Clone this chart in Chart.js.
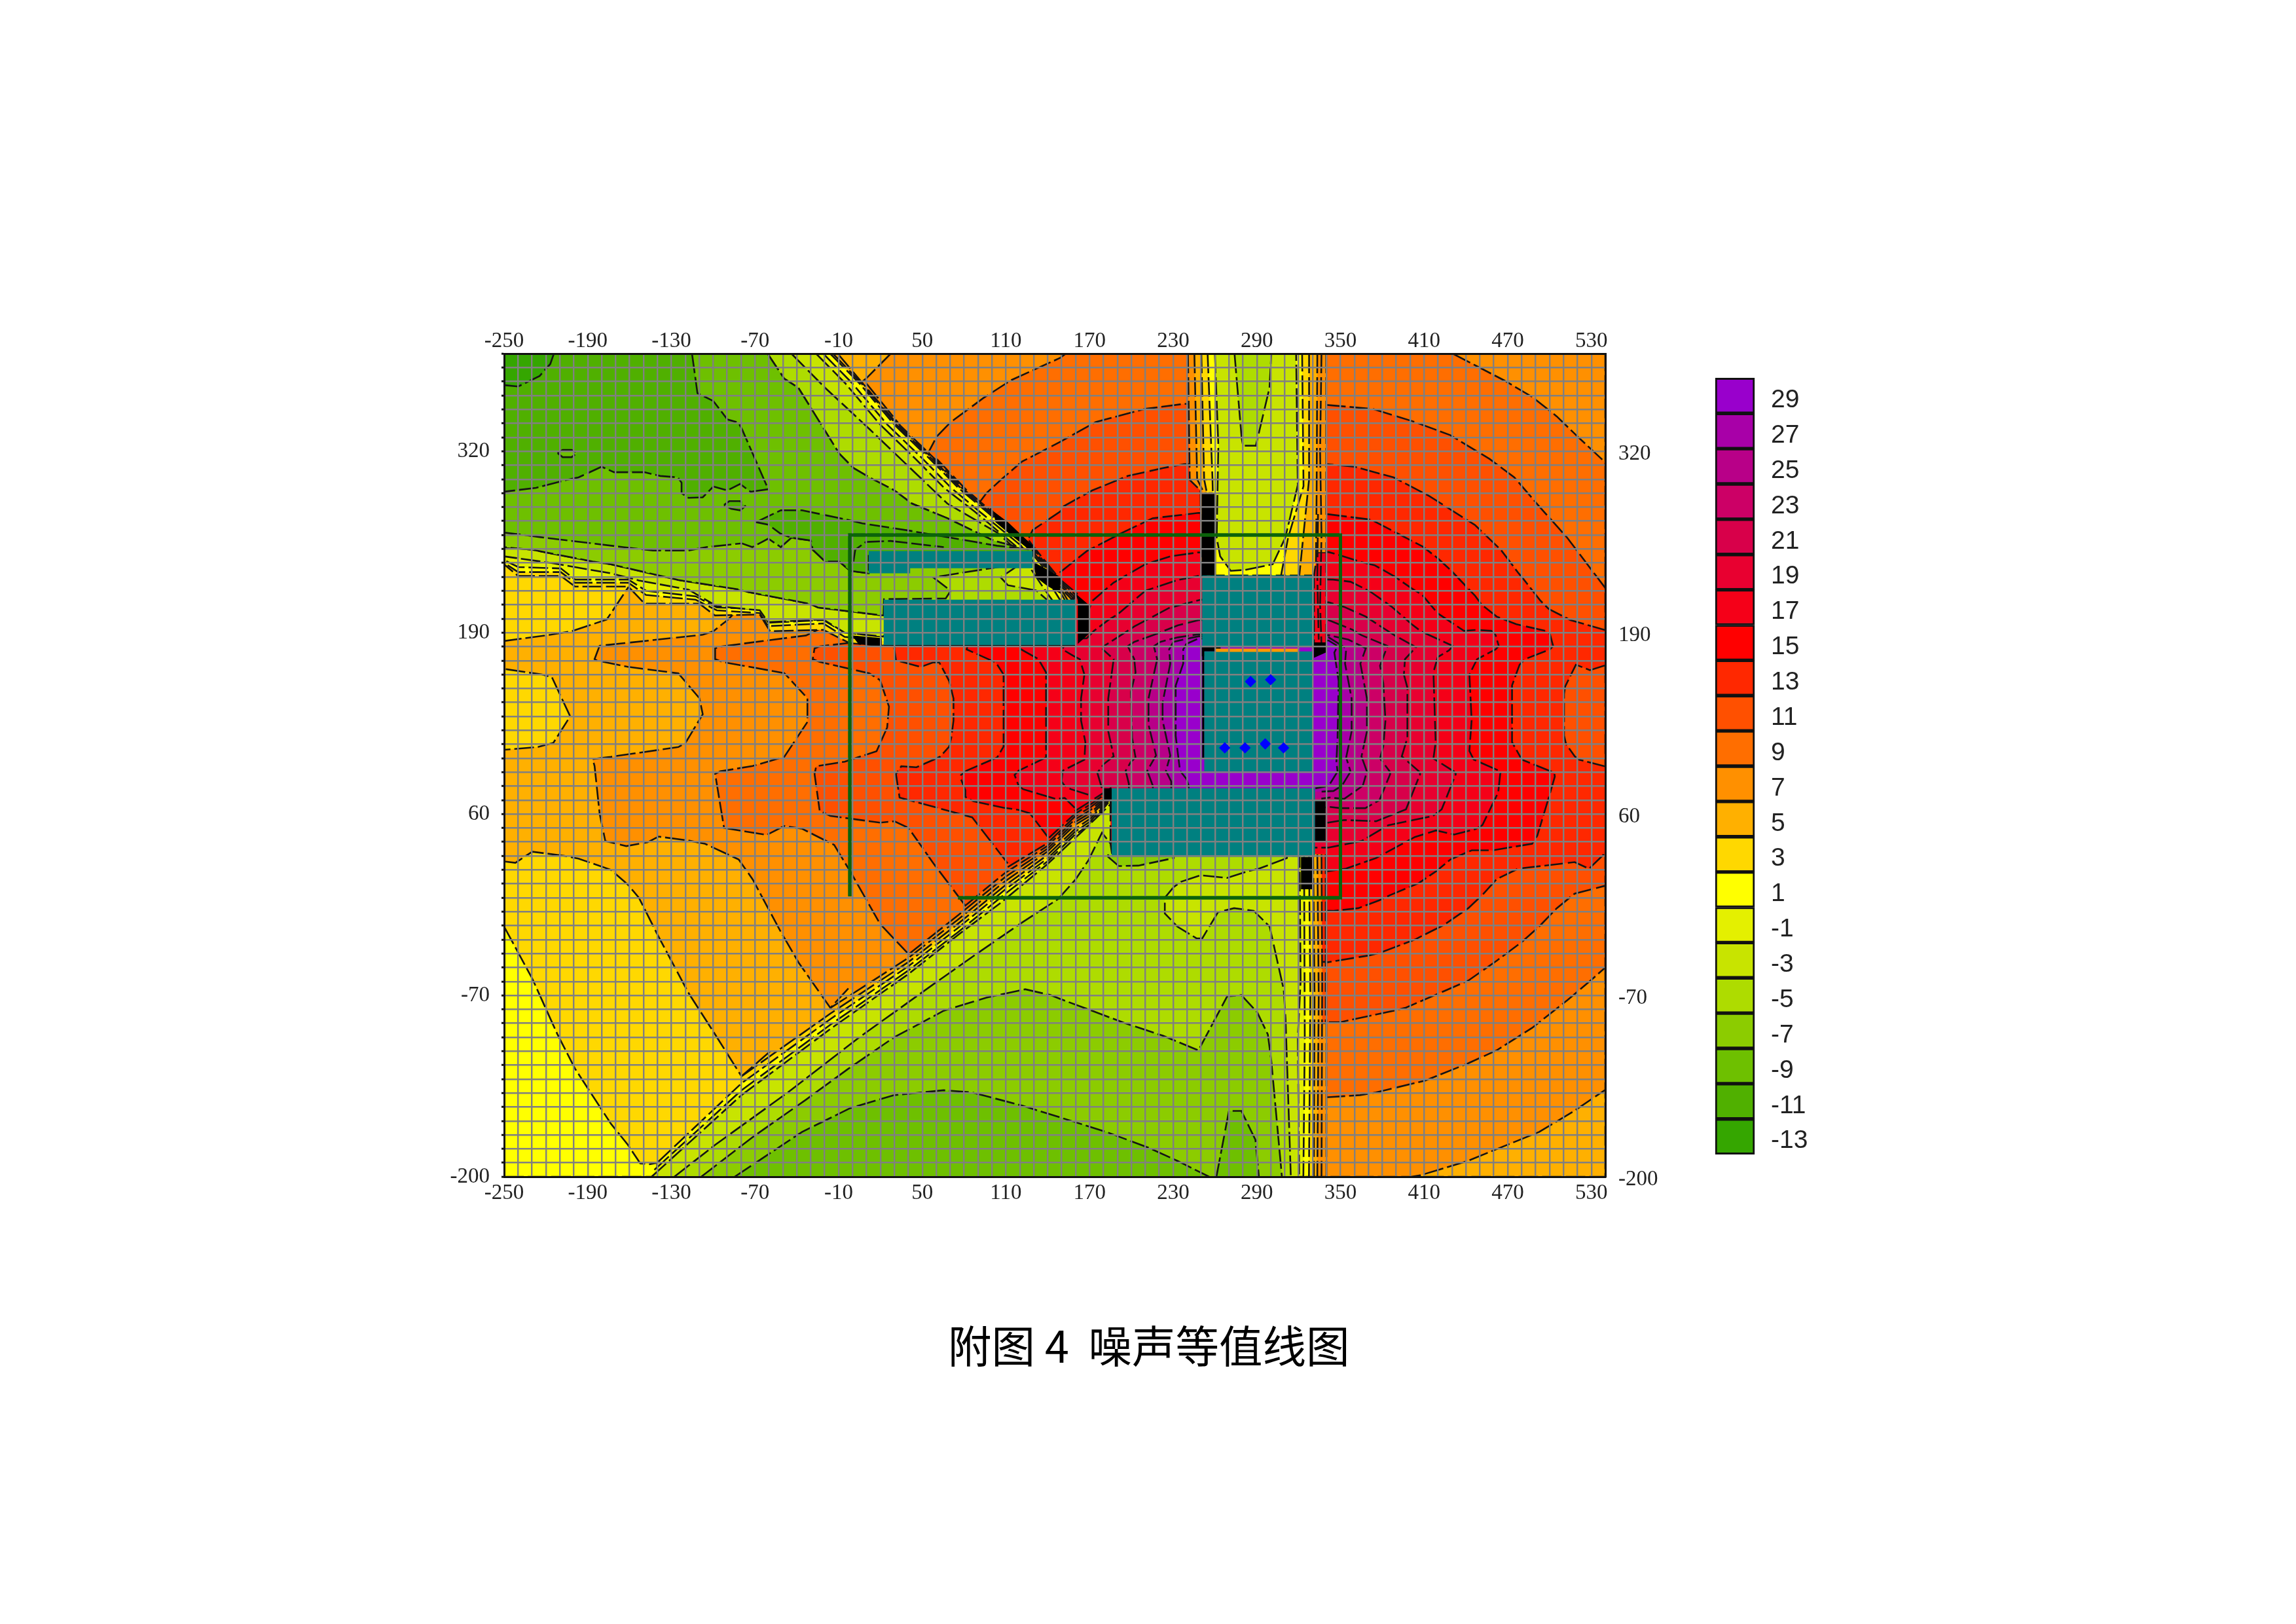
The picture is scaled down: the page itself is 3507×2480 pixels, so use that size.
<!DOCTYPE html>
<html>
<head>
<meta charset="utf-8">
<title>附图4 噪声等值线图</title>
<script src="https://cdn.jsdelivr.net/npm/chart.js@4/dist/chart.umd.min.js"></script>
<style>
html,body{margin:0;padding:0;background:#fff;width:3507px;height:2480px;overflow:hidden}
canvas{position:absolute}
#title{position:absolute;left:1448px;top:2004px;font:66.5px "Noto Sans CJK SC","Liberation Sans",sans-serif;color:#000;white-space:pre}
</style>
</head>
<body>
<canvas id="plot" width="3507" height="2480" style="left:0;top:0"></canvas>
<canvas id="scale" width="320" height="1266" style="left:2617px;top:537px"></canvas>
<div id="title">附图 4  噪声等值线图</div>
<script>
// tick labels and legend
var xTickLabels = [-250,-190,-130,-70,-10,50,110,170,230,290,350,410,470,530];
var yTickLabels = [-200,-70,60,190,320];
var legendLabels = ['29','27','25','23','21','19','17','15','13','11','9','7','5','3','1','-1','-3','-5','-7','-9','-11','-13'];
var legendColors = ['#9900CC','#A800A8','#B80088','#CC0066','#D8004A','#E80030','#F50018','#FF0000','#FF2800','#FF5000','#FF6E00','#FF9000','#FFB000','#FFD800','#FFFF00','#E4F000','#C8E400','#AEDC00','#8CCC00','#6EC000','#50B000','#35A600'];
var legendCells = [1,1,1,1,1,1,1,1,1,1,1,1,1,1,1,1,1,1,1,1,1,1];

// contour bands on the open side as [x, y]
var band1 = [[-250,-200],[540,-200],[540,390],[-250,390]];
var band3 = [[-250,-20.7],[-229.8,-58],[-211.7,-98],[-199.1,-122.6],[-173.4,-162],[-161.3,-177],[-152.3,-190.5],[-145.7,-191],[-140.2,-190],[-140.2,-200],[540,-200],[540,390],[-250,390]];
var band5 = [[-59,-110],[-79.7,-128],[-99.9,-96],[-117.9,-68],[-140.2,-26],[-153.3,0],[-161.3,9.5],[-173.4,20],[-196.6,28],[-206.7,30],[-229.8,33],[-241.9,25],[-250,26],[-250,106],[-225.8,108],[-214.7,111],[-202.6,130],[-215.7,158],[-222.8,160],[-250,164],[-250,184],[-216.7,188.5],[-201.6,191],[-176.4,199.4],[-163.3,219],[-149,240],[-18,390],[540,390],[540,-200],[-59,-200]];
var band7 = [[-3,-65],[-15.9,-79],[-38.4,-47],[-51.5,-24.5],[-71.6,13],[-81.7,27.4],[-105.9,38.7],[-118,41],[-139.2,43.8],[-147.2,39.7],[-162.3,37],[-177.4,40.6],[-181.5,60.4],[-185.1,94.4],[-186.5,99.4],[-173.4,101],[-125,108],[-120,110.8],[-107.5,131.5],[-109.9,143],[-125,160.8],[-161.3,165.5],[-183.5,170],[-185.1,171],[-181.5,180.6],[-163.3,182.5],[-107.5,188.5],[-99.9,191],[-89.8,199],[-68.6,220],[7,370],[9.6,372],[27.4,390],[540,390],[540,-137.7],[517.7,-152.8],[492.5,-167.9],[441.4,-188.6],[407.2,-199],[400.8,-200],[331.5,-200]];
var band9 = [[52,-55],[40.2,-40.5],[19.7,-18.8],[-0.6,17],[-13.2,37.8],[-36.4,49.5],[-49,51.4],[-61.6,45],[-92.2,50],[-98.6,88.7],[-94.9,90.6],[-71.7,94.4],[-49,101],[-32.4,126],[-32.4,143],[-49,161],[-93.5,169],[-98.6,171],[-98.6,178.7],[-94.9,180],[-33.4,188],[-8.2,200],[60.4,330.6],[70.5,341],[93.6,358],[113.8,371],[149,387],[153,390],[430.5,390],[467.1,371],[487.5,359],[505.2,345],[520.7,330],[540,312],[540,-50],[530.6,-58.4],[512.7,-73.5],[487.5,-93.3],[462,-109.4],[441.4,-118.8],[411,-131],[375.5,-139.6],[364,-141.5],[341.1,-143],[321,-143]];
var band11 = [[80.8,-5.6],[58,24.6],[40.1,50],[29.9,54.8],[19.7,53.8],[-15.9,58.6],[-23.6,62.3],[-27.3,88.7],[-26.1,94.2],[-5.7,97.5],[17.2,105],[24.8,122],[26.1,137],[19.7,156],[12,160.8],[-23.6,169],[-28.6,171],[-27.3,178.7],[-23.6,180.2],[4.4,183.4],[22,190],[96,290],[106.2,299.4],[121.5,312.6],[149,326.8],[174.5,341],[210,350.4],[238,354],[340,353.2],[373,350.4],[403.4,341],[428.9,331.5],[457,314.5],[474.7,301.3],[492.5,280.6],[512.7,258],[540,222],[540,8.6],[518,2.9],[505.2,-7.5],[492.5,-20.7],[479.8,-32],[462,-45.2],[441.7,-59.4],[397,-78.8],[388.2,-81],[350,-89.2],[341.1,-89.2],[321,-89]];
var band13 = [[111.3,24.6],[85.8,57.6],[75.7,60.4],[33.7,71.8],[31.1,88.7],[34.9,94.2],[45.8,93.5],[58.3,99],[63,101.3],[69.3,108.3],[70.8,114.6],[72.4,127],[72.4,142.8],[69.3,155.3],[62.2,168.6],[57.5,168.6],[48.9,165.4],[31.1,170.2],[29.9,178.7],[32,185],[125,255],[129.2,263.6],[149,276.8],[151.5,280.6],[171.8,291.9],[197.4,302.3],[222.8,308],[238,310.8],[340,310.8],[360,308.9],[388.1,301.3],[413.6,288],[446.4,267.2],[465.2,249.2],[477.6,232.8],[481.6,228],[493.2,213.2],[499.4,207],[515,199],[539.2,192],[546,191],[546,166],[539.2,166.3],[529,163.1],[518.9,167],[511.2,151.4],[510.4,146],[510.4,116.2],[511.9,110],[518.1,101.3],[521.2,99],[539.2,94.3],[546,93],[546,37.8],[528.3,20.8],[518,25.5],[477.5,20.8],[462,13.3],[451.8,2],[441.7,-7.5],[423.8,-19.8],[416.2,-23.5],[403.4,-30],[378,-39.6],[370.4,-41.4],[341.1,-46.2],[321,-46]];
var band15 = [[139.7,44],[130.1,56.7],[127,60.6],[119,63],[108.3,64.5],[86.5,69.2],[80.9,72.3],[80.9,77],[77.8,84.8],[77.8,88],[81.8,91.1],[103.7,100.5],[108.3,108.3],[108.3,160],[102.8,168.6],[97.4,171],[81.8,178],[87.8,200],[149,226],[149,233.4],[168.1,248.5],[193.6,261.7],[215.2,272],[248.1,275.8],[340,275],[372,271],[409.2,251.6],[420.2,243],[429.5,234.4],[446.6,216.4],[451.3,210],[462.1,201.5],[476.2,196],[497.2,191.3],[500.3,189],[502.6,180.4],[500.3,178],[482.4,171],[478.5,167],[473.1,152.2],[473.1,111.5],[480.1,99],[503.4,89.6],[503.8,86.8],[498.9,69.9],[491.2,44.4],[487.5,38.7],[459.4,34],[444.2,34],[428.9,27.4],[418.7,19],[406,10.4],[385.7,1.9],[378,-1.8],[362.8,-7.5],[345,-9.4],[321,-9],[184,25],[139.7,30]];
var band17 = [[159.3,64.5],[155.3,68.4],[152.2,71.5],[146,70.8],[122.3,77.8],[119.2,80],[116.2,88],[119.2,91.1],[138.8,100.5],[138.8,161.5],[133.3,171],[120.9,178],[133,200],[161,200],[169,205],[171.8,212.6],[187.2,225.8],[210,239],[227.9,244.7],[248.1,247.5],[341.6,247.7],[347.9,246],[365,240.6],[374.5,238.3],[388.6,230.4],[401,221.8],[408.7,217],[419.8,203.8],[438.6,191.3],[448,192],[458.2,191.3],[461.3,188.2],[463.6,180.4],[461.3,178],[448,171],[442.5,160],[444.1,127.2],[442.5,105.2],[445.6,99],[465.2,90.4],[464.6,88.7],[463.2,75.5],[451.8,52],[446.7,49.1],[431.5,45.3],[418.6,48.2],[403.4,43.5],[375.5,28.4],[353.9,20.8],[341.1,19],[321,19],[184,40]];
var band19 = [[169,73.9],[156.6,77.8],[152.2,80.2],[149.9,83.3],[150.6,91],[166.3,98.9],[167,111.5],[163.9,127],[163.9,142.8],[166.3,160],[163,171],[158.4,173.3],[150.6,178],[153.3,185],[168,186],[173.2,191.3],[183.4,199],[190,203],[210,220],[233,227.7],[248.1,230.6],[344.7,228],[357.2,226.5],[371.3,219.5],[386.9,208.5],[401.1,196],[407.3,191.3],[412,189],[430.8,180.4],[427.7,177.2],[419.8,172.5],[416.7,161.6],[418.3,111.5],[416.7,99.8],[431.6,90.4],[432.8,88.7],[422.6,63.3],[416.2,58.5],[384.3,52],[365.1,40.6],[341.1,35.9],[321,36],[184,60]];
var band21 = [[178.8,78.6],[175.6,89.5],[180.2,95.8],[187.3,101.3],[183.4,119.3],[183.4,142.8],[187.3,171],[179.5,178],[180.2,180.3],[202.1,194.4],[227,207.7],[249.8,213.6],[341.6,211.7],[352.5,208.5],[368.2,201.5],[379,194.4],[388.6,188.2],[404.2,179.6],[396.3,171],[395.5,160],[398,150.6],[398,114.6],[394,101.3],[406.5,90.4],[407.2,88.7],[397,63.3],[375.5,54.8],[352.6,55.7],[341.1,53.8],[336.3,50]];
var band23 = [[198.2,78.4],[198.2,81.7],[195.9,91],[199.7,97.4],[203,100.5],[200.5,114.6],[199.7,147.5],[203,161.5],[202.1,171],[197.4,180.3],[202.1,183.4],[217.7,189],[233.3,195.2],[248.2,199],[341.6,199],[358.8,192],[365,188.2],[383.8,180.4],[380.7,172.5],[378.4,166.3],[380.7,153.8],[382.3,127.2],[380.7,108.4],[378.4,99.8],[385.4,90.4],[385.7,88.7],[378,69.9],[367.8,64.2],[350,64.2],[341.1,65.2],[336.3,64]];
var band25 = [[215.4,78.4],[215.4,80.2],[211.4,91],[217.7,102],[212.3,124],[212.3,142.8],[218.5,171],[216.1,180.3],[220.8,183.4],[233.3,186.6],[248.2,188.9],[341.6,188.2],[355.7,185],[368.2,178.8],[364.3,167.8],[369,142.8],[369,119.3],[365.1,101.3],[369,90.4],[366,80.2],[352.6,70.8],[342.3,71.8],[336.3,71]];
var band27 = [[228.6,78.4],[228.6,83.3],[224.8,91],[227.9,102],[222.4,127],[222.4,139.6],[227.9,167.8],[227.1,178],[230.2,183.4],[248.2,187.4],[341.6,186.6],[354.1,178.8],[353.3,167.8],[358,142.8],[358,119.3],[354.1,100.5],[357.2,90.4],[351,80.2],[345,76.5],[336,76]];
var band29 = [[241.1,78.4],[241.1,80.2],[239.6,85],[234.9,91],[231.8,116],[231.8,152],[237.2,167.8],[237.2,178],[239.5,181.9],[248.2,185.8],[341.6,184.3],[347.9,180.4],[345.6,175.7],[348.7,155.3],[347.9,114.6],[347.1,97.4],[347.9,90.4],[341.6,80.2],[332,78.4]];

// upper shadow wedge, from the lit edge inwards
var upEdge13 = [[126.5,256],[129.2,252.3],[149,228],[161,218],[153,205],[113,230]];
var upEdge11 = [[98.6,279],[101.1,276.1],[128.5,251.6],[148.3,227.3],[160,217],[153,205],[92.6,250]];
var upEdge9 = [[60.4,314.5],[80.8,293.1],[100.4,276.1],[127.8,251.6],[147.6,226.6],[159,216],[153,205],[52.3,290]];
var upEdge7 = [[9.6,369],[34.3,338.3],[59.7,313.8],[80.1,292.4],[99.6,275.4],[127.1,250.9],[146.9,225.9],[158,215],[153,205],[1.9,340]];
var upEdge5 = [[-10.7,390],[8.2,367.6],[33.6,337.6],[59,313.1],[79.4,291.7],[98.9,274.7],[126.4,250.2],[146.2,225.2],[157,214],[153,205],[-28.3,370]];
var shade3 = [[-14.1,390],[6.1,369],[31.5,339],[56.9,314.5],[77.3,293.8],[97.6,276.8],[125.7,252.3],[145.5,228],[155,212],[155,205],[27,185],[22.2,180.6],[-1.9,182.4],[-21,192],[-59.2,191],[-66.6,203],[-98.7,202.3],[-110,210.8],[-149.2,210.8],[-160.9,223],[-199.1,223],[-209.3,230.6],[-239.9,230.6],[-250,239],[-250,390]];
var shade1 = [[-16.1,390],[4.6,369],[30,339],[55.4,314.5],[75.8,293.8],[96.1,276.8],[124.2,252.3],[144,228],[153,212],[153,205],[27,188],[22,184],[-5.7,187],[-21,196.6],[-60.6,194.7],[-66.6,204],[-97.4,206],[-112.6,213.6],[-148.2,217],[-160.9,225.8],[-199.1,225.8],[-209.3,233.4],[-239.9,233.4],[-250,240],[-250,390]];
var shadeM1 = [[-21.1,390],[-0.5,369],[25,339],[50.4,314.5],[70.7,293.8],[91.1,276.8],[120.9,252.3],[141,226],[151,210],[151,205],[27,191],[22,187],[-5.7,190],[-21,199],[-60.6,197],[-66.6,207],[-97.4,208],[-112.6,216],[-148.2,220],[-160.9,228],[-199.1,228],[-209.3,236],[-239.9,237],[-250,242],[-250,390]];
var shadeM3 = [[-26.2,390],[-5.5,369],[19.9,339],[45.2,314.5],[65.6,293.8],[87.6,276.8],[116.8,252.3],[137,222],[147,208],[147,205],[27,193],[22,187.2],[-5.7,190],[-21,199.4],[-60.6,197.5],[-66.6,206],[-97.4,209],[-117.7,220.8],[-153.3,227.4],[-173.4,232.5],[-216.7,240],[-250,244.7],[-250,390]];
var shadeM5 = [[-43.9,390],[-19.7,365.5],[12,336],[68,282.5],[103.7,261.7],[116.4,250.4],[129,245],[106.2,229.6],[111.4,224],[131.7,220.2],[139.4,213.6],[139,205],[22,205],[22,202.3],[-24.8,208],[-31.3,210.8],[-74.5,219],[-82,221],[-125,227.7],[-132.9,229.6],[-173.4,239],[-186.5,241],[-229.8,249.4],[-250,251.3],[-250,390]];
var shadeM7 = [[-61,390],[-49,372],[-38.9,365.5],[-9.6,318.3],[0.6,308],[12,301.3],[29.9,292],[42.6,282.5],[68,272],[101.1,256],[129.2,248.5],[123,240],[57.9,229.6],[70.4,220],[66.8,214.5],[22.5,214],[22.2,202.3],[-24.8,208],[-31.3,210.8],[-74.5,219],[-82,221],[-125,227.7],[-132.9,229.6],[-173.4,239],[-186.5,241],[-229.8,249.4],[-250,251.3],[-250,390]];
var shadeM9 = [[-61,390],[-49,372],[-38.9,365.5],[-9.6,318.3],[0.6,308],[12,301.3],[29.9,292],[42.6,282.5],[68,272],[101.1,256],[129.2,248.5],[123,240],[14,240],[11.6,232.5],[-1.9,234.3],[-9.6,241],[-19.7,241],[-28.6,249.4],[-29.9,256],[-43.9,258],[-51.5,251.3],[-60.5,257.4],[-71.9,251.3],[-79.5,254],[-104.9,251.3],[-117.7,248.9],[-143.2,248.9],[-164.7,251.3],[-224.5,258.5],[-237.3,260.2],[-250,261.7],[-250,390]];
var shadeM11 = [[-115.2,390],[-111.3,361.7],[-99.9,356],[-89.8,342.8],[-82,340.6],[-79.5,336.2],[-60.5,292.8],[-73.2,291],[-80.7,296.6],[-89.8,291.9],[-99.9,294.7],[-107.5,287],[-117.7,286.6],[-122.7,290],[-122.7,297.5],[-125.4,301.3],[-138,302.3],[-149.5,305],[-171.1,305],[-180.1,308.9],[-196.6,301.3],[-205.5,299.4],[-227.1,293.8],[-250,291],[-250,390]];
var patchM11 = [[-69.3,269.2],[-51.5,277.7],[-36.3,277.7],[-3.1,270.8],[7,268.3],[40.1,263.2],[70.6,258],[103.7,252.3],[129.2,249.4],[129,245],[11.6,245],[11.6,232.5],[-1.9,234.3],[-9.6,241],[-19.7,241],[-28.6,249.4],[-29.9,256],[-43.9,258],[-51.5,260.8],[-60.5,267.4],[-69.3,269.2]];
var cornerM13 = [[-214.3,390],[-216.9,382.5],[-224.5,374],[-239.9,366.4],[-250,367.4],[-250,390]];
var blobA = [[-211.7,318.7],[-208,321],[-201.6,321],[-197.8,318.7],[-201.6,315.8],[-208,315.8],[-211.7,318.7]];
var blobB = [[-92.2,281.5],[-88.4,284.3],[-80.7,284.3],[-77,280.6],[-80.7,277.7],[-87.1,278.7],[-92.2,281.5]];
var lineAboveRoof = [[0.6,241],[1.9,249.4],[9.5,255],[27.4,255.7],[65.4,251.3]];

// top notch above the right building
var notchOuterLeft = [[240.6,390],[241.9,299.4],[249.6,291.9],[250.2,231],[260,231],[260,390]];
var notchLeft5 = [[245.2,390],[247.2,300],[252.2,290],[260,290],[260,390]];
var notchLeft3 = [[250.2,390],[252.2,300],[254.2,290],[260,290],[260,390]];
var notchRightTop = [[339.8,390],[339.8,247],[327.5,247],[327.5,390]];
var notchRightLow = [[339.8,247],[339.8,179.6],[331,179.6],[331,247]];
var notchRight5 = [[333.4,390],[332.9,290],[332.4,240],[331,231],[317.5,231],[317.5,390]];
var notchGold = [[327.5,390],[327.5,300],[320.5,231],[301.4,231],[301.4,390]];
var notchYellow = [[254.7,390],[258.2,300],[259.9,231],[307.4,231],[312.4,258],[323.5,295],[322.5,390]];
var notchM3 = [[259.9,390],[262.4,324],[261.2,258],[263.7,244.7],[271.3,234.3],[281.6,235],[301.4,239],[310.4,258],[319.4,295.7],[318.2,390]];
var notchM5 = [[274,390],[279.1,329.6],[280.1,324],[289.3,324],[299.1,365.5],[300.4,390]];
var notchLineA = [[336.4,390],[335.4,320],[336.4,260],[335.4,210],[336.4,181]];
var notchLineB = [[333.9,275],[333.4,230],[334.4,185]];

// strip right of the lower wedge
var stripBase = [[339.9,31],[339.9,-200],[316.4,-200],[316.4,31]];
var strip11 = [[339.4,31],[339.4,-90],[319.4,-90],[319.4,31]];
var strip13 = [[339.4,31],[339.4,-46],[319.4,-46],[319.4,31]];
var strip7 = [[336.4,31],[336.9,-60],[336.4,-200],[319.4,-200],[319.4,31]];
var strip5 = [[333.4,31],[334.4,-70],[333.4,-200],[319.4,-200],[319.4,31]];
var strip3 = [[330.4,31],[331.4,-70],[330.9,-200],[319.4,-200],[319.4,31]];
var strip1 = [[327.4,31],[328.4,-70],[327.4,-200],[319.4,-200],[319.4,31]];
var stripM1 = [[323.9,31],[324.4,-100],[323.4,-200],[316.4,-200],[316.4,31]];

// lower shadow wedge
var lowEdge15 = [[159.3,62],[170.9,69.3],[185,78.4],[185,60],[143,20]];
var lowEdge13 = [[141,43],[159.3,60],[170.9,67],[185,77],[185,60],[123,5]];
var lowEdge11 = [[111.3,22],[139.7,39],[159.3,58],[170.9,65],[185,76],[185,60],[103,-12]];
var lowEdge9 = [[80.4,-6],[109.7,18],[139.7,37],[159.3,56],[170.9,63],[185,75],[185,60],[72.4,-35]];
var lowEdge7 = [[40.2,-40.5],[75.2,-13],[109.7,15],[139.7,35],[159.3,54],[170.9,61],[185,74],[185,60],[103,-12],[40.2,-60]];
var lowEdge5 = [[-15.9,-79],[40.2,-43],[75.2,-16],[109.7,12],[139.7,33],[159.3,52],[170.9,59],[185,73],[185,60],[103,-12],[40.2,-60],[-15.9,-100]];
var lowEdge3 = [[-79.7,-128],[-15.9,-83],[40.2,-46],[75.2,-19],[109.7,9],[139.7,30.5],[159.3,49],[170.9,57],[185,72],[185,60],[103,-12],[40.2,-60],[-15.9,-100],[-79.7,-148]];
var lowEdge1 = [[-140.2,-190],[-79.7,-133],[-15.9,-87],[40.2,-49],[75.2,-22],[109.7,6],[139.7,28],[159.3,47],[170.9,55],[185,71],[185,60],[103,-12],[40.2,-60],[-15.9,-100],[-79.7,-148],[-140.2,-200]];
var lowEdgeM1 = [[-142.2,-195],[-79.7,-138],[-15.9,-91],[40.2,-52],[75.2,-25],[109.7,3],[139.7,26],[159.3,45],[170.9,53],[185,70],[185,60],[103,-12],[40.2,-60],[-15.9,-100],[-79.7,-148],[-142.2,-200]];
var lowM3 = [[-144.2,-200],[-79.7,-141.5],[-15.9,-94],[40.2,-54.6],[75.2,-27],[106.2,-3.7],[139.7,24],[167.9,50.5],[185,67],[185,30],[320.7,30],[321.4,-60],[319.4,-100],[320.4,-200]];
var lowM5 = [[-127.9,-200],[-98.4,-177],[-46.5,-139.6],[4.9,-100],[60.4,-60.3],[91.2,-38.7],[120.8,-18.3],[147.4,-1],[159.9,13],[169.3,27],[178.9,46.6],[185,38.8],[186,32],[311.6,32],[311.6,28.4],[291.5,20.8],[283.8,19],[268.6,14.2],[249.5,16.1],[235.5,11.4],[230.3,7.6],[224,0],[224,-11.3],[233,-20.7],[246.9,-29.2],[250.8,-29.2],[262.2,-10.3],[273.7,-7.5],[287.8,-9.4],[299.2,-20.7],[309.3,-66],[310.6,-86.7],[314.4,-200]];
var lowBlobM7 = [[183.3,31],[183.3,29.3],[190.9,22.7],[205,23],[230.4,28.4],[230.4,31]];
var lowM7 = [[-108.6,-200],[-71.7,-171.6],[-33.8,-145],[-3.1,-122.6],[29.9,-100],[65.4,-81],[96,-71.6],[123.8,-65.6],[142,-69.8],[149,-72.6],[171.8,-81],[194.5,-89.6],[222.8,-99],[248.1,-109.4],[268.7,-70.7],[278.9,-69.8],[290.2,-82],[297.9,-98],[300.4,-117],[308,-200]];
var lowM9 = [[-84.6,-200],[-36.3,-167.9],[-1.9,-150.9],[29.9,-141.5],[65.4,-138],[85.9,-139.6],[121.5,-149],[149,-157.5],[182.1,-167.9],[212.4,-179.2],[233,-188.6],[255.8,-200]];
var lowPeakM9 = [[261,-200],[270,-152.8],[278.9,-152.8],[289,-173.5],[291.5,-200]];

// black patches where the contours run together
var denseA = [[101.3,276.8],[111.4,269.2],[129.2,252.3],[126.7,249.4],[113.8,259.8],[102.4,269.2]];
var denseB = [[160,218],[169.4,210],[169.4,189],[161.6,182],[161.6,213]];
var denseC = [[129.3,241],[149,230],[149,218],[139,224],[131.8,229.6]];
var denseD = [[-0.5,188],[21,186],[21,180.6],[4.5,181.5]];
var denseE = [[250.4,290],[260.7,290],[260.7,231],[250.4,231]];
var denseF = [[331.7,70],[339.3,70],[339.3,40],[331.7,40]];
var denseG = [[321.7,29],[329.7,29],[329.7,6],[321.7,6]];
var denseH = [[180.2,78.4],[186,78.4],[186,71],[180.2,71]];
var denseI = [[250.5,180],[264,180],[264,176.5],[252.4,176.5],[252.4,173],[250.5,173]];
var denseJ = [[331,183],[340,183],[340,176],[331,172]];
var denseK = [[250.8,178],[252.4,178],[252.4,100],[250.8,100]];

// buildings
var roofA = [[11.6,248.5],[129.2,248.5],[129.2,236.2],[41.3,236.2],[41.3,232.5],[11.6,232.5]];
var roofB = [[22.3,213.6],[160,213.6],[160,180.6],[22.3,180.6]];
var roofC = [[250.8,231],[331,231],[331,179.6],[250.8,179.6]];
var roofD = [[252.3,176.5],[329.8,176.5],[329.8,90.6],[252.3,90.6]];
var roofE = [[185.9,78.4],[331.7,78.4],[331.7,29.3],[185.9,29.3]];
var orangeBar = [[260.3,178.6],[319.5,178.6],[319.5,176.2],[260.3,176.2]];
var roofBEdge = [[22.3,180.4],[160,180.4]];

// site boundary and sources
var siteLine = [[-2,1],[-2,260],[350,260],[350,0],[75.6,0]];
var sources = [[285.5,155],[299.9,156.2],[267,107.4],[281.5,107.4],[296,110.3],[309.2,107.4]];

var c = {};
legendLabels.forEach(function(l, i){ c[l] = legendColors[i]; });

var INK = '#141414';
// paint order: first row is painted first
var layers = [
    [band1, c['1']], [band3, c['3']], [band5, c['5']], [band7, c['7']], [band9, c['9']],
    [band11, c['11']], [band13, c['13']], [band15, c['15']], [band17, c['17']], [band19, c['19']],
    [band21, c['21']], [band23, c['23']], [band25, c['25']], [band27, c['27']], [band29, c['29']],
    [upEdge13, c['13']], [upEdge11, c['11']], [upEdge9, c['9']], [upEdge7, c['7']], [upEdge5, c['5']],
    [shade3, c['3']], [shade1, c['1']], [shadeM1, c['-1']], [shadeM3, c['-3']], [shadeM5, c['-5']],
    [shadeM7, c['-7']], [shadeM9, c['-9']], [shadeM11, c['-11']], [patchM11, c['-11']], [cornerM13, c['-13']],
    [blobA, c['-9']], [blobB, c['-11']], [lineAboveRoof, null],
    [notchOuterLeft, c['7']], [notchLeft5, c['5']], [notchLeft3, c['3']],
    [notchRightTop, c['7']], [notchRightLow, c['17']], [notchRight5, c['5']], [notchGold, c['3']],
    [notchYellow, c['1']], [notchM3, c['-3']], [notchM5, c['-5']], [notchLineA, null], [notchLineB, null],
    [stripBase, c['7']], [strip11, c['11']], [strip13, c['13']], [strip7, c['7']], [strip5, c['5']],
    [strip3, c['3']], [strip1, c['1']], [stripM1, c['-1']],
    [lowEdge15, c['15']], [lowEdge13, c['13']], [lowEdge11, c['11']], [lowEdge9, c['9']], [lowEdge7, c['7']],
    [lowEdge5, c['5']], [lowEdge3, c['3']], [lowEdge1, c['1']], [lowEdgeM1, c['-1']], [lowM3, c['-3']],
    [lowM5, c['-5']], [lowBlobM7, c['-7']], [lowM7, c['-7']], [lowM9, c['-9']], [lowPeakM9, c['-9']]
];
var patches = [denseA, denseB, denseC, denseD, denseE, denseF, denseG, denseH, denseI, denseJ, denseK];
var roofs = [roofA, roofB, roofC, roofD, roofE];

function pts(list){
    return list.map(function(p){ return {x: p[0], y: p[1]}; });
}

var datasets = [];
layers.forEach(function(l){
    datasets.push({
        data: pts(l[0]), showLine: true, pointRadius: 0, tension: 0,
        fill: l[1] ? 'shape' : false, backgroundColor: l[1] || 'transparent',
        borderColor: INK, borderWidth: 2.6, borderDash: [30, 6]
    });
});
patches.forEach(function(p){
    datasets.push({data: pts(p), showLine: true, pointRadius: 0, fill: 'shape', backgroundColor: '#000', borderWidth: 0});
});
roofs.forEach(function(p){
    datasets.push({data: pts(p), showLine: true, pointRadius: 0, fill: 'shape', backgroundColor: '#008080', borderWidth: 0});
});
datasets.push({data: pts(orangeBar), showLine: true, pointRadius: 0, fill: 'shape', backgroundColor: '#FF9900', borderWidth: 0});
datasets.push({data: pts(roofBEdge), showLine: true, pointRadius: 0, borderColor: '#000', borderWidth: 3});

// these two go over the mesh
var firstOverlay = datasets.length;
datasets.push({data: pts(siteLine), showLine: true, pointRadius: 0, fill: false, borderColor: '#0B630B', borderWidth: 5});
datasets.push({data: pts(sources), showLine: false, pointStyle: 'rectRot', pointRadius: 8.5, backgroundColor: '#0000FF', borderWidth: 0});

// first in the array would be painted last, so count the order backwards
datasets.forEach(function(d, i){ d.order = datasets.length - i; });

var overlayPlugin = {
    id: 'overlay',
    afterDraw: function(chart){
        for (var i = firstOverlay; i < chart.data.datasets.length; i++) {
            chart.getDatasetMeta(i).controller.draw();
        }
    }
};

function axisFont(){
    return {family: '"Liberation Serif","Times New Roman",serif', size: 33};
}
function xLabel(v){ return xTickLabels.indexOf(v) >= 0 ? String(v) : ''; }
function yLabel(v){ return yTickLabels.indexOf(v) >= 0 ? String(v) : ''; }
function fixedWidth(w){ return function(s){ s.width = w; }; }
function fixedHeight(h){ return function(s){ s.height = h; }; }

new Chart(document.getElementById('plot'), {
    type: 'scatter',
    data: {datasets: datasets},
    plugins: [overlayPlugin],
    options: {
        responsive: false, animation: false, devicePixelRatio: 1, events: [],
        layout: {padding: {left: 670, right: 955, top: 500, bottom: 643}},
        plugins: {legend: {display: false}, tooltip: {enabled: false}, title: {display: false}},
        scales: {
            x: {
                type: 'linear', position: 'bottom', min: -250, max: 540, afterFit: fixedHeight(40),
                grid: {color: '#808080', lineWidth: 2.4, z: 1, drawTicks: false},
                border: {display: true, color: '#111', width: 3, z: 2},
                ticks: {stepSize: 10, autoSkip: false, maxRotation: 0, minRotation: 0, padding: 6, color: '#222', font: axisFont(), callback: xLabel, z: 2}
            },
            xTop: {
                type: 'linear', axis: 'x', position: 'top', min: -250, max: 540, afterFit: fixedHeight(40),
                grid: {display: false},
                border: {display: true, color: '#111', width: 3, z: 2},
                ticks: {stepSize: 10, autoSkip: false, maxRotation: 0, minRotation: 0, padding: -9, color: '#222', font: axisFont(), callback: xLabel, z: 2}
            },
            y: {
                type: 'linear', position: 'left', min: -200, max: 390, afterFit: fixedWidth(100),
                grid: {color: '#808080', lineWidth: 2.4, z: 1, drawTicks: true, tickLength: 4, tickColor: '#111', tickWidth: 3},
                border: {display: true, color: '#111', width: 3, z: 2},
                ticks: {stepSize: 10, autoSkip: false, padding: 18, color: '#222', font: axisFont(), callback: yLabel, z: 2, labelOffset: 0}
            },
            yRight: {
                type: 'linear', axis: 'y', position: 'right', min: -200, max: 390, afterFit: fixedWidth(100),
                grid: {display: false},
                border: {display: true, color: '#111', width: 3, z: 2},
                ticks: {stepSize: 10, autoSkip: false, padding: 12, color: '#222', font: axisFont(), callback: yLabel, z: 2, labelOffset: 4}
            }
        }
    }
});

// colour bar, one cell per contour level
new Chart(document.getElementById('scale'), {
    type: 'bar',
    data: {
        labels: legendLabels,
        datasets: [{
            data: legendCells, backgroundColor: legendColors, borderColor: '#111', borderWidth: 3,
            borderSkipped: false, barPercentage: 1, categoryPercentage: 1, clip: 6
        }]
    },
    options: {
        indexAxis: 'y', responsive: false, animation: false, devicePixelRatio: 1, events: [],
        layout: {autoPadding: false, padding: {left: 3, right: 0, top: 3, bottom: 8}},
        plugins: {legend: {display: false}, tooltip: {enabled: false}},
        scales: {
            x: {display: false, min: 0, max: 1},
            y: {
                position: 'right', afterFit: fixedWidth(257),
                grid: {display: false}, border: {display: false},
                ticks: {padding: 17, labelOffset: 7, color: '#222', font: {family: '"Liberation Sans",Arial,sans-serif', size: 39}}
            }
        }
    }
});
</script>
</body>
</html>
